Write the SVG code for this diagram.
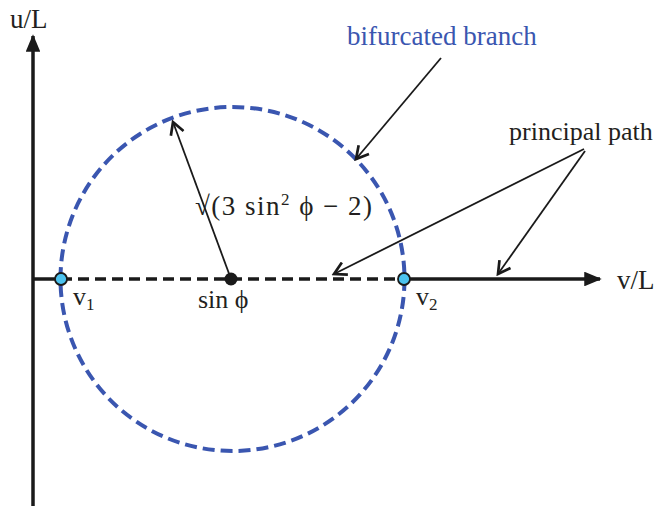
<svg xmlns="http://www.w3.org/2000/svg" width="663" height="508" viewBox="0 0 663 508">
<style>
text{font-family:"Liberation Serif","Times New Roman",serif;fill:#231f20}
.ax{stroke:#1a1a1a;stroke-width:3.5;fill:none}
.ann{stroke:#1a1a1a;stroke-width:1.8;fill:none}
</style>
<defs>
<marker id="tri" viewBox="0 0 10 10" refX="9" refY="5" markerWidth="5" markerHeight="4.2" orient="auto" markerUnits="strokeWidth" preserveAspectRatio="none">
<path d="M0,0 L10,5 L0,10 Z" fill="#1a1a1a"/>
</marker>
<marker id="vee" viewBox="0 0 12 12" refX="10" refY="6" markerWidth="9" markerHeight="9" orient="auto" markerUnits="strokeWidth">
<path d="M1,1 L10,6 L1,11" fill="none" stroke="#1a1a1a" stroke-width="2"/>
</marker>
</defs>
<g id="bifurcated-branch">
<circle cx="232.5" cy="279" r="172" fill="none" stroke="#3a56b0" stroke-width="4" stroke-dasharray="12 6"/>
</g>
<g id="axes">
<line class="ax" x1="33" y1="506" x2="33" y2="36" marker-end="url(#tri)"/>
<line class="ax" x1="33" y1="279" x2="61" y2="279"/>
<line x1="61" y1="279" x2="404" y2="279" stroke="#1a1a1a" stroke-width="3.5" stroke-dasharray="11 6"/>
<line class="ax" x1="404" y1="279" x2="600" y2="279" marker-end="url(#tri)"/>
</g>
<g id="connectors">
<line class="ann" x1="231" y1="279" x2="173" y2="122" marker-end="url(#vee)"/>
<line class="ann" x1="441" y1="58" x2="356" y2="159" marker-end="url(#vee)"/>
<line class="ann" x1="584" y1="149" x2="334" y2="274" marker-end="url(#vee)"/>
<line class="ann" x1="585" y1="151" x2="498" y2="274" marker-end="url(#vee)"/>
</g>
<g id="center">
<circle cx="231" cy="279" r="6.5" fill="#1a1a1a"/>
<text x="198" y="308" font-size="26">sin ϕ</text>
</g>
<g id="v1">
<circle cx="61" cy="279" r="6" fill="#4cc3ef" stroke="#1a1a1a" stroke-width="1.8"/>
<text x="73" y="305" font-size="26">v<tspan font-size="17" dy="5">1</tspan></text>
</g>
<g id="v2">
<circle cx="404" cy="279" r="6" fill="#4cc3ef" stroke="#1a1a1a" stroke-width="1.8"/>
<text x="416" y="305" font-size="26">v<tspan font-size="17" dy="5">2</tspan></text>
</g>
<g id="labels">
<text x="10" y="28" font-size="27">u/L</text>
<text x="617" y="289" font-size="27">v/L</text>
<text x="347" y="45" font-size="27" style="fill:#3a56b0">bifurcated branch</text>
<text x="509" y="140" font-size="26">principal path</text>
<text x="195" y="215" font-size="27" textLength="177" lengthAdjust="spacing">√(3 sin<tspan font-size="17" dy="-10">2</tspan><tspan dy="10"> ϕ − 2)</tspan></text>
</g>
</svg>
